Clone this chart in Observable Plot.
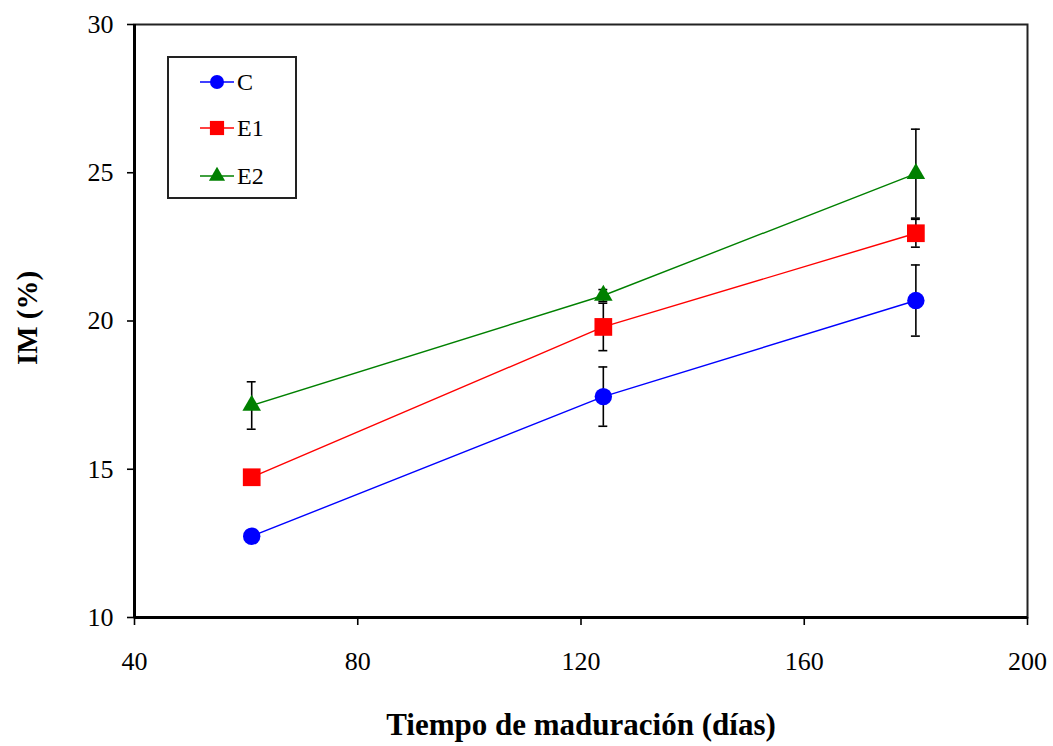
<!DOCTYPE html>
<html>
<head>
<meta charset="utf-8">
<script src="https://cdn.jsdelivr.net/npm/d3@7"></script>
<script src="https://cdn.jsdelivr.net/npm/@observablehq/plot@0.6"></script>
<style>
  html, body { margin: 0; padding: 0; background: #fff; }
  #wrap { position: relative; width: 1053px; height: 746px; }
  #legend {
    position: absolute; left: 167px; top: 56px; width: 126px; height: 139px;
    border: 2px solid #222; background: #fff; box-sizing: content-box;
    font-family: "Liberation Serif", serif; font-size: 24px;
  }
  .row { position: absolute; left: 0; height: 30px; width: 120px; }
  .row svg { position: absolute; left: 30px; top: 0; }
  .row span { position: absolute; left: 68px; top: 1px; line-height: 28px; }
</style>
</head>
<body>
<div id="wrap"></div>
<script>
const days = [61, 124, 180];
const series = ["C", "E1", "E2"];
const valuesC = [12.74, 17.45, 20.69];
const valuesE1 = [14.73, 19.80, 22.96];
const valuesE2 = [17.15, 20.86, 24.97];
const errC = [0.2, 1.0, 1.2];
const errE1 = [0.2, 0.8, 0.47];
const errE2 = [0.8, 0.2, 1.5];
const colors = ["#0000ff", "#ff0000", "#008000"];
const symbols = ["circle", "square", "triangle"];
const xTicks = [40, 80, 120, 160, 200];
const yTicks = [10, 15, 20, 25, 30];
const xTitle = "Tiempo de maduración (días)";
const yTitle = "IM (%)";

const vals = [valuesC, valuesE1, valuesE2];
const errs = [errC, errE1, errE2];
const data = series.flatMap((s, i) => days.map((d, j) => ({
  series: s, day: d, value: vals[i][j], err: errs[i][j]
})));

const sizes = {C: 8.7, E1: 10, E2: 6.9};

const chart = Plot.plot({
  width: 1053,
  height: 746,
  marginLeft: 134,
  marginRight: 26,
  marginTop: 24,
  marginBottom: 129,
  style: {fontFamily: "Liberation Serif", fontSize: "26px", color: "#000", background: "#fff"},
  x: {domain: [40, 200], ticks: xTicks, tickSize: 8, tickPadding: 26, label: null},
  y: {domain: [10, 30], ticks: yTicks, tickSize: 7, tickPadding: 14, label: null},
  color: {domain: series, range: colors},
  symbol: {domain: series, range: symbols},
  marks: [
    Plot.frame({stroke: "#222", strokeWidth: 2}),
    Plot.ruleX(data, {x: "day", y1: d => d.value - d.err, y2: d => d.value + d.err, stroke: "#000", strokeWidth: 1.6}),
    Plot.ruleY(data, {y: d => d.value - d.err, x1: d => d.day - 0.8, x2: d => d.day + 0.8, stroke: "#000", strokeWidth: 1.6}),
    Plot.ruleY(data, {y: d => d.value + d.err, x1: d => d.day - 0.8, x2: d => d.day + 0.8, stroke: "#000", strokeWidth: 1.6}),
    Plot.line(data, {x: "day", y: "value", z: "series", stroke: "series", strokeWidth: 1.4}),
    ...series.map(s => Plot.dot(data.filter(d => d.series === s), {
      x: "day", y: "value", symbol: "series", fill: "series", stroke: "none", r: sizes[s]
    })),
    Plot.ruleX([40], {stroke: "#000", strokeWidth: 3}),
    Plot.ruleY([10], {stroke: "#000", strokeWidth: 3}),
    Plot.axisX({ticks: xTicks, tickSize: 8, tickPadding: 26, stroke: "#000", strokeWidth: 1.6, label: null}),
    Plot.axisY({ticks: yTicks, tickSize: 7, tickPadding: 14, stroke: "#000", strokeWidth: 1.6, label: null}),
    Plot.text([xTitle], {frameAnchor: "bottom", dy: 117, lineAnchor: "bottom", fontWeight: "bold", fontSize: 31, fill: "#000"}),
    Plot.text([yTitle], {frameAnchor: "left", dx: -107, dy: -3, rotate: -90, textAnchor: "middle", lineAnchor: "middle", fontWeight: "bold", fontSize: 29, fill: "#000"})
  ]
});

const wrap = document.getElementById("wrap");
wrap.appendChild(chart);

// Legend overlay
const legend = document.createElement("div");
legend.id = "legend";
const rowTops = [9, 55, 103];
series.forEach((s, i) => {
  const row = document.createElement("div");
  row.className = "row";
  row.style.top = rowTops[i] + "px";
  const svg = d3.create("svg").attr("width", 36).attr("height", 30);
  svg.append("line").attr("x1", 1).attr("x2", 35).attr("y1", 15).attr("y2", 15)
    .attr("stroke", colors[i]).attr("stroke-width", 1.4);
  const sym = [d3.symbolCircle, d3.symbolSquare, d3.symbolTriangle][i];
  const r = [7, 8, 6][i];
  svg.append("path").attr("d", d3.symbol(sym, Math.PI * r * r)())
    .attr("transform", "translate(18,15)").attr("fill", colors[i]);
  row.appendChild(svg.node());
  const t = document.createElement("span");
  t.textContent = s;
  row.appendChild(t);
  legend.appendChild(row);
});
wrap.appendChild(legend);
</script>
</body>
</html>
